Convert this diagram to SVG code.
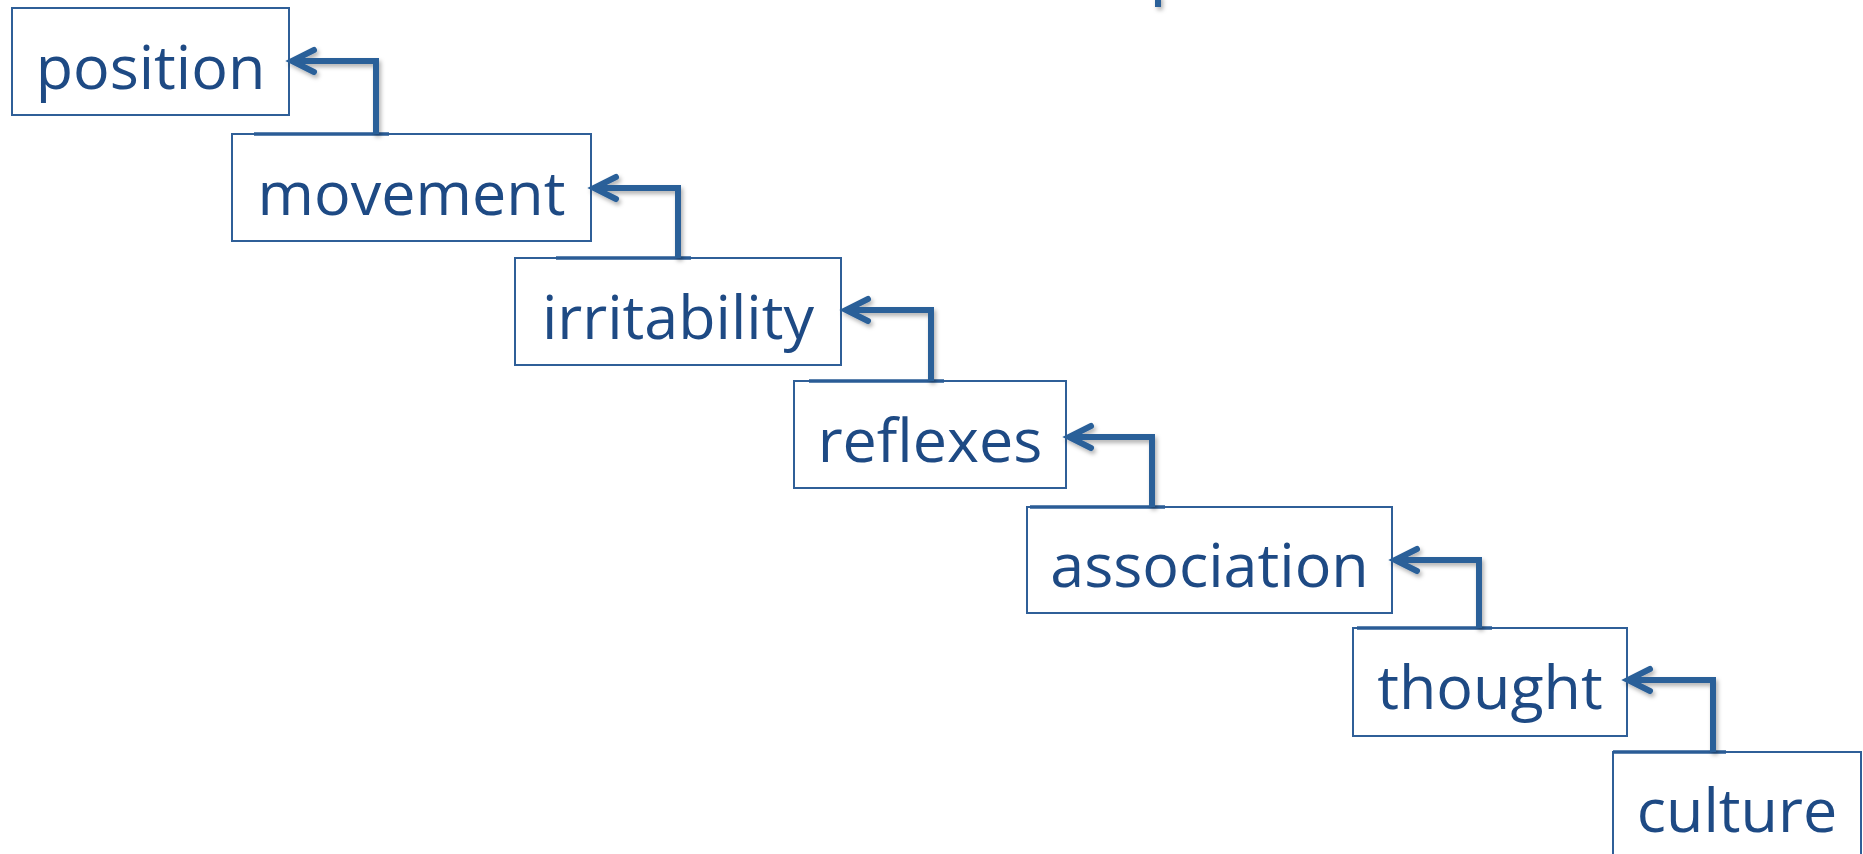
<svg xmlns="http://www.w3.org/2000/svg" width="1863" height="854" viewBox="0 0 1863 854">
  <style>
    .box { fill: #ffffff; stroke: #2f5f98; stroke-width: 2; }
    .lbl { font-family: "Open Sans", "Noto Sans", "Liberation Sans", sans-serif; font-size: 61px; fill: #1e4a84; text-anchor: middle; }
    .conn { fill: none; stroke: #2a6099; stroke-width: 6; stroke-linejoin: miter; stroke-linecap: butt; }
    .topseg { stroke: #2a5c96; stroke-width: 3.5; }
  </style>
  <defs>
    <marker id="chev" markerUnits="userSpaceOnUse" markerWidth="40" markerHeight="40" refX="0" refY="0" viewBox="-30 -20 40 40" orient="auto" overflow="visible">
      <path d="M-22,-11 L0,0 L-22,11" fill="none" stroke="#2a6099" stroke-width="6" stroke-linecap="round" stroke-linejoin="miter"/>
    </marker>
    <filter id="sh" x="-20%" y="-20%" width="140%" height="140%">
      <feDropShadow dx="2" dy="3" stdDeviation="2" flood-color="#000000" flood-opacity="0.3"/>
    </filter>
  </defs>

  <rect width="1863" height="854" fill="#ffffff"/>

  <g id="node-position">
    <rect class="box" x="12" y="8" width="277" height="107"/>
    <text class="lbl" x="150.5" y="89">position</text>
  </g>
  <g id="node-movement">
    <rect class="box" x="232" y="134" width="359" height="107"/>
    <text class="lbl" x="411.5" y="215">movement</text>
  </g>
  <g id="node-irritability">
    <rect class="box" x="515" y="258" width="326" height="107"/>
    <text class="lbl" x="678" y="338.5">irritability</text>
  </g>
  <g id="node-reflexes">
    <rect class="box" x="794" y="381" width="272" height="107"/>
    <text class="lbl" x="930" y="461.5">reflexes</text>
  </g>
  <g id="node-association">
    <rect class="box" x="1027" y="507" width="365" height="106"/>
    <text class="lbl" x="1209.5" y="587">association</text>
  </g>
  <g id="node-thought">
    <rect class="box" x="1353" y="628" width="274" height="108"/>
    <text class="lbl" x="1490" y="709">thought</text>
  </g>
  <g id="node-culture">
    <rect class="box" x="1613" y="752" width="248" height="120"/>
    <text class="lbl" x="1737" y="832">culture</text>
  </g>

  <g id="connectors">
    <g class="topseg">
      <line x1="254" y1="134" x2="389" y2="134"/>
      <line x1="556" y1="258" x2="691" y2="258"/>
      <line x1="809" y1="381" x2="944" y2="381"/>
      <line x1="1030" y1="507" x2="1165" y2="507"/>
      <line x1="1357" y1="628" x2="1492" y2="628"/>
      <line x1="1613" y1="752" x2="1726" y2="752"/>
    </g>
    <g filter="url(#sh)">
      <path class="conn" d="M376,134 V61 H292" marker-end="url(#chev)"/>
      <path class="conn" d="M678,258 V188 H594" marker-end="url(#chev)"/>
      <path class="conn" d="M931,381 V310 H846" marker-end="url(#chev)"/>
      <path class="conn" d="M1152,507 V437 H1069" marker-end="url(#chev)"/>
      <path class="conn" d="M1479,628 V560 H1395" marker-end="url(#chev)"/>
      <path class="conn" d="M1713,752 V680 H1628" marker-end="url(#chev)"/>
      <path class="conn" d="M1158,-5 V7"/>
    </g>
  </g>
</svg>
